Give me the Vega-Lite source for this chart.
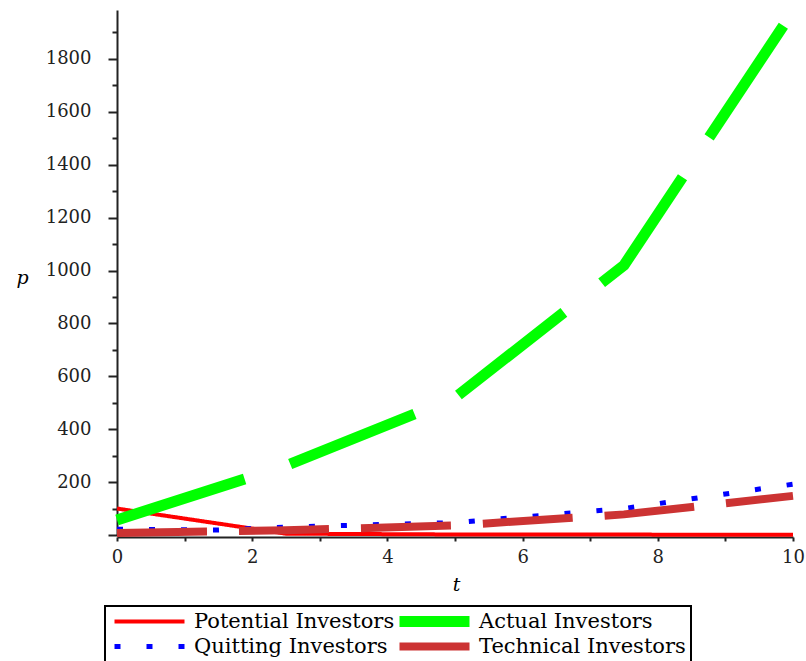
{
  "$schema": "https://vega.github.io/schema/vega-lite/v6.json",
  "width": 676,
  "height": 525,
  "autosize": {"type": "none"},
  "padding": {"left": 117, "top": 10, "right": 13, "bottom": 126},
  "background": "white",
  "config": {
    "view": {"stroke": null},
    "font": "DejaVu Serif",
    "legend": {
      "title": null,
      "orient": "none",
      "legendX": -12,
      "legendY": 596,
      "direction": "horizontal",
      "columns": 2,
      "symbolType": "M-7,0H7",
      "symbolSize": 100,
      "symbolOffset": 29,
      "labelFont": "DejaVu Serif",
      "labelFontSize": 21,
      "labelColor": "black",
      "labelOffset": 34,
      "labelLimit": 400,
      "columnPadding": -2,
      "rowPadding": 3,
      "clipHeight": 21,
      "padding": 5,
      "strokeColor": "black",
      "strokeWidth": 2
    }
  },
  "data": {
    "values": [
      {"series": "Potential Investors", "t": 0, "p": 100},
      {"series": "Potential Investors", "t": 1.9, "p": 28},
      {"series": "Potential Investors", "t": 2.5, "p": 5},
      {"series": "Potential Investors", "t": 5, "p": 2},
      {"series": "Potential Investors", "t": 10, "p": 1},
      {"series": "Actual Investors", "t": 0, "p": 57},
      {"series": "Actual Investors", "t": 2.5, "p": 262},
      {"series": "Actual Investors", "t": 5, "p": 519},
      {"series": "Actual Investors", "t": 7.5, "p": 1020},
      {"series": "Actual Investors", "t": 10, "p": 1980},
      {"series": "Quitting Investors", "t": 0, "p": 22},
      {"series": "Quitting Investors", "t": 1.5, "p": 19},
      {"series": "Quitting Investors", "t": 2.5, "p": 30},
      {"series": "Quitting Investors", "t": 5, "p": 47},
      {"series": "Quitting Investors", "t": 7.5, "p": 100},
      {"series": "Quitting Investors", "t": 10, "p": 192},
      {"series": "Technical Investors", "t": 0, "p": 8},
      {"series": "Technical Investors", "t": 2.5, "p": 18},
      {"series": "Technical Investors", "t": 5, "p": 36},
      {"series": "Technical Investors", "t": 7.5, "p": 78},
      {"series": "Technical Investors", "t": 10, "p": 148}
    ]
  },
  "mark": {"type": "line", "strokeCap": "butt", "clip": false},
  "encoding": {
    "x": {
      "field": "t",
      "type": "quantitative",
      "scale": {"domain": [0, 10], "nice": false, "zero": false},
      "axis": {
        "title": "t",
        "titleFont": "DejaVu Serif",
        "titleFontStyle": "italic",
        "titleFontWeight": "normal",
        "titleFontSize": 19,
        "titleColor": "black",
        "titleX": 339,
        "titleY": 47,
        "titleAlign": "center",
        "titleBaseline": "middle",
        "values": [0, 1, 2, 3, 4, 5, 6, 7, 8, 9, 10],
        "format": "d",
        "labelExpr": "datum.value % 2 === 0 ? datum.label : ''",
        "labelOverlap": false,
        "labelFlush": false,
        "labelFont": "DejaVu Serif",
        "labelFontSize": 18,
        "labelColor": "#222",
        "labelPadding": 7,
        "tickSize": 4,
        "tickWidth": 2,
        "tickColor": "#222",
        "domainColor": "#222",
        "domainWidth": 2,
        "grid": false,
        "offset": 2
      }
    },
    "y": {
      "field": "p",
      "type": "quantitative",
      "scale": {"domain": [0, 1985], "nice": false},
      "axis": {
        "title": "p",
        "titleFont": "DejaVu Serif",
        "titleFontStyle": "italic",
        "titleFontWeight": "normal",
        "titleFontSize": 19,
        "titleColor": "black",
        "titleAngle": 0,
        "titleX": -95,
        "titleY": 267,
        "titleAlign": "center",
        "titleBaseline": "middle",
        "values": [0, 100, 200, 300, 400, 500, 600, 700, 800, 900, 1000, 1100, 1200, 1300, 1400, 1500, 1600, 1700, 1800, 1900],
        "format": "d",
        "labelExpr": "datum.value % 200 === 0 && datum.value > 0 ? datum.label : ''",
        "labelOverlap": false,
        "labelFont": "DejaVu Serif",
        "labelFontSize": 18,
        "labelColor": "#222",
        "labelPadding": 17,
        "tickSize": {"condition": {"test": "datum.value % 200 === 0", "value": 9}, "value": 5},
        "tickWidth": 2,
        "tickColor": "#222",
        "domainColor": "#222",
        "domainWidth": 2,
        "grid": false
      }
    },
    "color": {
      "field": "series",
      "type": "nominal",
      "scale": {
        "domain": ["Potential Investors", "Actual Investors", "Quitting Investors", "Technical Investors"],
        "range": ["#ff0000", "#00ff00", "#0000ff", "#cc3333"]
      },
      "legend": {
        "values": ["Potential Investors", "Actual Investors", "Quitting Investors", "Technical Investors"],
        "symbolType": "M-7,0H7"
      }
    },
    "strokeDash": {
      "field": "series",
      "type": "nominal",
      "scale": {
        "domain": ["Potential Investors", "Actual Investors", "Quitting Investors", "Technical Investors"],
        "range": [[1, 0], [134, 48], [6, 26], [90, 32]]
      }
    },
    "strokeWidth": {
      "field": "series",
      "type": "nominal",
      "scale": {
        "type": "ordinal",
        "domain": ["Potential Investors", "Actual Investors", "Quitting Investors", "Technical Investors"],
        "range": [4, 11, 5, 8]
      }
    }
  }
}
